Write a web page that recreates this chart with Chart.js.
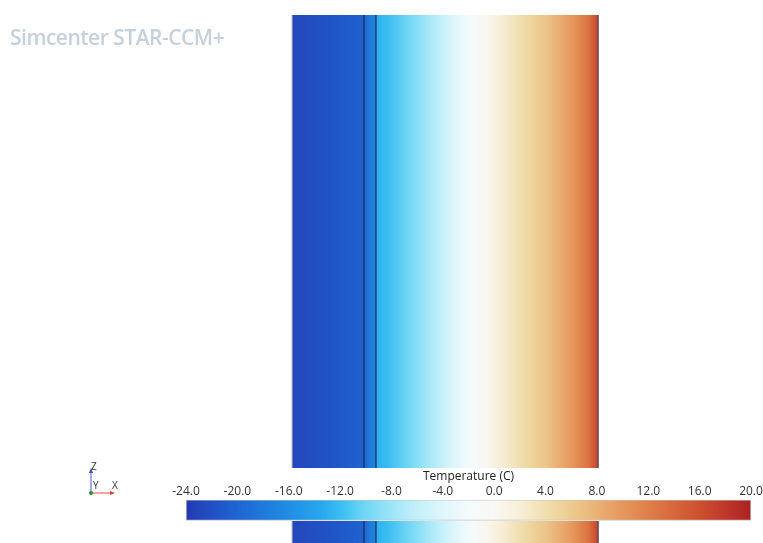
<!DOCTYPE html>
<html>
<head>
<meta charset="utf-8">
<script src="https://cdn.jsdelivr.net/npm/chart.js@4/dist/chart.umd.min.js"></script>
<style>
  html, body { margin:0; padding:0; background:#fff; }
  body { width:763px; height:543px; overflow:hidden; position:relative; }
  #c1 { position:absolute; left:0; top:0; }
  #c2 { position:absolute; left:0; top:468px; }
  #brand { position:absolute; left:10px; top:26px; font-family:"Open Sans", sans-serif; font-weight:600;
           font-size:21px; letter-spacing:-0.5px; line-height:22px; color:#c6d1db; white-space:nowrap; }
  #triad { position:absolute; left:80px; top:458px; }
</style>
</head>
<body>
<canvas id="c1" width="763" height="543"></canvas>
<canvas id="c2" width="790" height="73"></canvas>
<div id="brand">Simcenter STAR-CCM+</div>
<svg id="triad" width="50" height="42" xmlns="http://www.w3.org/2000/svg">
  <line x1="11" y1="35" x2="11" y2="14" stroke="#4a5cc8" stroke-width="1"/>
  <polygon points="11,10 9,15 13,15" fill="#3a4cc0"/>
  <line x1="11" y1="35" x2="31" y2="35" stroke="#e0503c" stroke-width="1"/>
  <polygon points="35,35 30,33 30,37" fill="#d84030"/>
  <circle cx="11" cy="35" r="2" fill="#2a8a3a"/>
  <text x="11" y="12" font-family="Open Sans, sans-serif" font-size="10" fill="#333">Z</text>
  <text x="13" y="31" font-family="Open Sans, sans-serif" font-size="10" fill="#333">Y</text>
  <text x="32" y="31" font-family="Open Sans, sans-serif" font-size="10" fill="#333">X</text>
</svg>
<script>
// ---- data ----
// position across the wall (mm) and temperature (C) at that position
const positions    = [0, 15, 32, 48, 60, 65, 70, 70, 80, 97, 113, 128, 144, 153, 163, 178, 194, 211, 228, 238, 247, 253, 255];
const temperatures = [-22.8, -22.3, -21.6, -20.9, -20.2, -17.8, -17.0, -13.0, -12.0, -10.0, -7.7, -5.3, -2.5, -1.0, 0.5, 2.5, 4.5, 6.5, 9.0, 11.0, 13.0, 16.0, 17.0];
// layer boundaries (mm)
const boundaries = [0, 60, 70, 255];
const boundaryColors = ['#bdbdbd', '#1a2440', '#1a2440', '#6a4a5a'];
// colour map: temperature stops and colours (legend)
const cmapTemps  = [-24, -23.5, -20.3, -16.5, -13.4, -11.8, -10.3, -8.7, -6.4, -4.1, -2, 0, 2, 4.3, 6.6, 9, 11.3, 13.6, 16, 18.3, 20];
const cmapColors = ['#2234b0', '#2440b8', '#1e62d0', '#2088e2', '#28a8ee', '#3cc0f2', '#6ad4f4', '#8ee0f6', '#bdeefa', '#def6fb', '#f4fafc',
                    '#f8f8f4', '#f7efd8', '#efdca8', '#ecc488', '#e8a468', '#e08850', '#d86c3c', '#cc5030', '#bc3428', '#a82222'];
// colour bar range and ticks
const barMin = -24, barMax = 20, barStep = 4;
const barTitle = 'Temperature (C)';

// ---- helpers ----
function hexToRgb(h){ const n=parseInt(h.slice(1),16); return [(n>>16)&255,(n>>8)&255,n&255]; }
function colorFor(t){
  if (t <= cmapTemps[0]) return cmapColors[0];
  for (let i=1;i<cmapTemps.length;i++){
    if (t <= cmapTemps[i]){
      const f=(t-cmapTemps[i-1])/(cmapTemps[i]-cmapTemps[i-1]);
      const a=hexToRgb(cmapColors[i-1]), b=hexToRgb(cmapColors[i]);
      const c=a.map((v,k)=>Math.round(v+(b[k]-v)*f));
      return `rgb(${c[0]},${c[1]},${c[2]})`;
    }
  }
  return cmapColors[cmapColors.length-1];
}

// ---- field chart ----
const fieldDataset = {
  type:'line',
  data: positions.map(p => ({x:p, y:1})),
  borderWidth:0, pointRadius:0, fill:'origin', order:2,
  backgroundColor: (ctx) => {
    const chart = ctx.chart, area = chart.chartArea;
    if (!area) return '#888';
    const xs = chart.scales.x;
    const g = chart.ctx.createLinearGradient(area.left, 0, area.right, 0);
    positions.forEach((p,i) => {
      const f = Math.min(1, Math.max(0, (xs.getPixelForValue(p) - area.left) / (area.right - area.left)));
      g.addColorStop(f, colorFor(temperatures[i]));
    });
    return g;
  }
};
const boundaryDatasets = boundaries.map((b,i) => ({
  type:'line',
  data:[{x:b,y:0},{x:b,y:1}],
  borderColor: boundaryColors[i],
  borderWidth: i===3 ? 1.6 : 1.1,
  pointRadius:0, fill:false, clip:false, order:1
}));

new Chart(document.getElementById('c1'), {
  type:'line',
  data:{ datasets:[fieldDataset, ...boundaryDatasets] },
  options:{
    responsive:false, animation:false, events:[],
    layout:{ padding:{ left:292, right:165, top:15, bottom:0 } },
    scales:{
      x:{ type:'linear', min:0, max:255, display:false },
      y:{ type:'linear', min:0, max:1, display:false }
    },
    plugins:{ legend:{display:false}, tooltip:{enabled:false} }
  }
});

// ---- colour bar chart ----
// white band behind the colour bar (legend background)
const legendBackground = {
  id:'legendBackground',
  beforeDraw(chart){
    const y = chart.scales.y;
    const bandBottom = (y.getPixelForValue(0) + y.getPixelForValue(1)) / 2;
    chart.ctx.save();
    chart.ctx.fillStyle = '#fff';
    chart.ctx.fillRect(0, 0, chart.width, Math.round(bandBottom) + 1);
    chart.ctx.restore();
  }
};
new Chart(document.getElementById('c2'), {
  type:'bar',
  data:{
    labels:['T', ''],
    datasets:[{
      data:[[barMin, barMax], null],
      barPercentage:1, categoryPercentage:1,
      borderWidth:1, borderSkipped:false, borderColor:'rgba(160,160,160,0.6)',
      backgroundColor:(ctx) => {
        const chart = ctx.chart, area = chart.chartArea;
        if (!area) return '#888';
        const xs = chart.scales.x;
        const l = xs.getPixelForValue(barMin), r = xs.getPixelForValue(barMax);
        const g = chart.ctx.createLinearGradient(l, 0, r, 0);
        cmapTemps.forEach((t,i) => g.addColorStop((xs.getPixelForValue(t)-l)/(r-l), cmapColors[i]));
        return g;
      }
    }]
  },
  plugins:[legendBackground],
  options:{
    indexAxis:'y', responsive:false, animation:false, events:[],
    layout:{ padding:{ left:186, right:39, top:0, bottom:0 } },
    scales:{
      x:{ type:'linear', position:'top', min:barMin, max:barMax,
          grid:{ display:false, drawTicks:false }, border:{ display:false },
          ticks:{ stepSize:barStep, padding:1, color:'#333', font:{ family:'Open Sans', size:12 },
                  callback:(v) => Number(v).toFixed(1) },
          title:{ display:true, text:barTitle, color:'#222', padding:{ top:1, bottom:0 }, font:{ family:'Open Sans', size:12 } } },
      y:{ type:'category', display:false }
    },
    plugins:{ legend:{display:false}, tooltip:{enabled:false} }
  }
});
</script>
</body>
</html>
